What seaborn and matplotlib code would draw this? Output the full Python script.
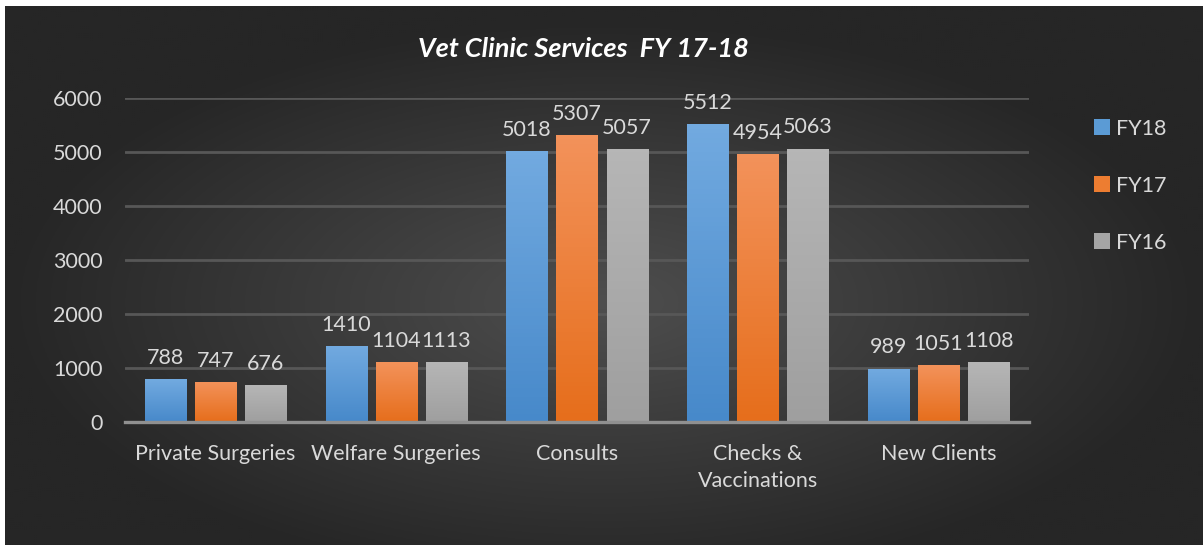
import numpy as np
import pandas as pd
import matplotlib
matplotlib.use("Agg")
import matplotlib.pyplot as plt
import seaborn as sns
from matplotlib.colors import to_rgb, LinearSegmentedColormap
from matplotlib.patches import Patch

# Chart data
categories = ["Private Surgeries", "Welfare Surgeries", "Consults", "Checks &\nVaccinations", "New Clients"]
series_names = ["FY18", "FY17", "FY16"]
fy18 = [788, 1410, 5018, 5512, 989]
fy17 = [747, 1104, 5307, 4954, 1051]
fy16 = [676, 1113, 5057, 5063, 1108]
yticks = [0, 1000, 2000, 3000, 4000, 5000, 6000]

df = pd.DataFrame({
    "category": categories * 3,
    "series": [s for s in series_names for _ in categories],
    "value": fy18 + fy17 + fy16,
})

sns.set_theme(style="dark")
plt.rcParams["font.family"] = ["Lato", "DejaVu Sans"]

W, H = 1203, 545
fig = plt.figure(figsize=(W / 100, H / 100), dpi=100)
fig.patch.set_facecolor("white")

# radial dark background
bg = fig.add_axes([5 / W, 0, 1198 / W, 539 / H])
bg.set_axis_off()
xx, yy = np.meshgrid(np.linspace(-1, 1, 600), np.linspace(-1, 1, 270))
d = np.sqrt(((xx - 0.0) / 1.0) ** 2 + ((yy - 0.1) / 1.05) ** 2)
d = np.clip(d, 0, 1)
c0 = np.array(to_rgb("#4e4e4e"))
c1 = np.array(to_rgb("#262626"))
img = c0[None, None, :] * (1 - d[..., None]) + c1[None, None, :] * d[..., None]
bg.imshow(img, aspect="auto", extent=(0, 1, 0, 1), origin="upper")

ax = fig.add_axes([125 / W, (H - 422) / H, 904 / W, 324 / H])
ax.set_facecolor("none")

palette = {"FY18": "#5b9bd5", "FY17": "#ed7d31", "FY16": "#a5a5a5"}
sns.barplot(data=df, x="category", y="value", hue="series", hue_order=series_names,
            order=categories, palette=palette, width=0.83, gap=0.18, ax=ax,
            legend=False, zorder=3, linewidth=0, edgecolor="none")

grads = {
    "FY18": ("#72aae0", "#4789ca"),
    "FY17": ("#f3925a", "#e66e1c"),
    "FY16": ("#b6b6b6", "#9f9f9f"),
}
for name, cont in zip(series_names, ax.containers):
    cmap = LinearSegmentedColormap.from_list(name, [grads[name][1], grads[name][0]])
    for bar in cont:
        x0, y0 = bar.get_x(), bar.get_y()
        w, h = bar.get_width(), bar.get_height()
        im = ax.imshow(np.linspace(0, 1, 64).reshape(-1, 1), cmap=cmap, aspect="auto",
                       extent=(x0, x0 + w, y0, y0 + h), origin="lower", zorder=3)
        im.set_clip_path(bar)
        bar.set_facecolor("none")
        bar.set_edgecolor("none")
        bar.set_linewidth(0)
    ax.bar_label(cont, labels=[f"{v:.0f}" for v in cont.datavalues], padding=8,
                 color="#d9d9d9", fontsize=15.5, zorder=4)

ax.set_xlim(-0.5, len(categories) - 0.5)
ax.set_ylim(0, 6000)
ax.set_yticks(yticks)
ax.set_yticklabels([str(t) for t in yticks])
ax.grid(axis="y", color="#575757", linewidth=2, zorder=0)
ax.grid(axis="x", visible=False)
for s in ["top", "right", "left"]:
    ax.spines[s].set_visible(False)
ax.spines["bottom"].set_color("#909090")
ax.spines["bottom"].set_linewidth(2.4)
ax.spines["bottom"].set_zorder(5)
ax.tick_params(axis="y", length=0, pad=16, labelsize=15.5, labelcolor="#d9d9d9")
ax.tick_params(axis="x", length=0, pad=16, labelsize=15.5, labelcolor="#d9d9d9")
for lbl in ax.get_xticklabels():
    lbl.set_linespacing(1.4)
ax.set_xlabel("")
ax.set_ylabel("")

fig.text(583 / W, 1 - 49 / H, "Vet Clinic Services  FY 17-18", ha="center", va="center",
         color="white", fontsize=19.5, fontweight="bold", fontstyle="italic")

handles = [Patch(facecolor=palette[s], edgecolor="none", label=s) for s in series_names]
leg = fig.legend(handles=handles, loc="upper left", bbox_to_anchor=(1085 / W, 1 - 110 / H),
                 frameon=False, fontsize=15.5, handlelength=0.75, handleheight=0.75,
                 handletextpad=0.3, labelspacing=1.72, borderaxespad=0)
for t in leg.get_texts():
    t.set_color("#d9d9d9")

fig.savefig("out.png", dpi=100, facecolor=fig.get_facecolor())
